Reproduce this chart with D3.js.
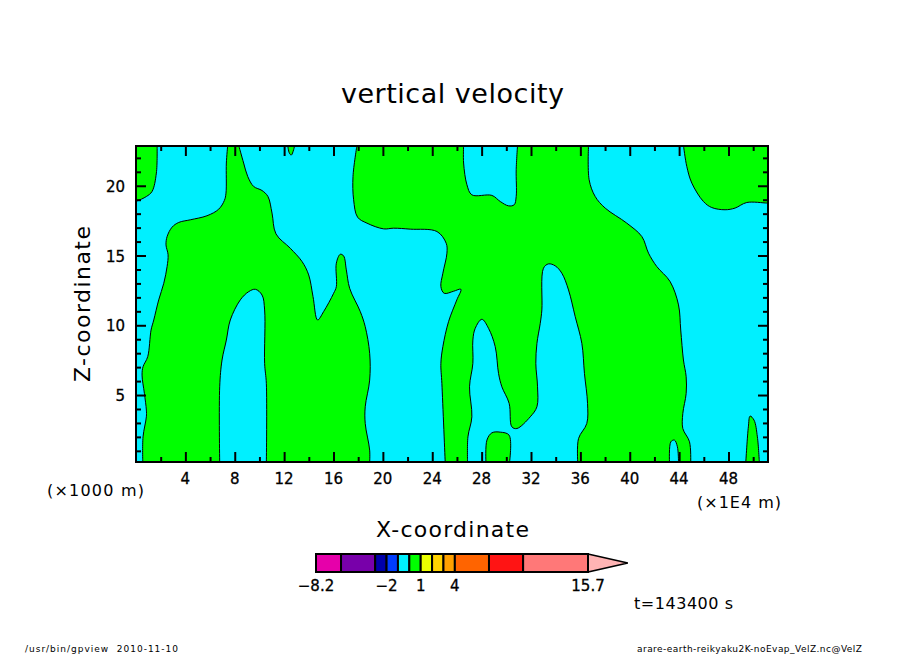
<!DOCTYPE html>
<html>
<head>
<meta charset="utf-8">
<script src="https://cdn.jsdelivr.net/npm/d3@7"></script>
<style>
  html, body { margin: 0; padding: 0; background: #fff; }
  svg { display: block; }
  text { font-family: "DejaVu Sans", sans-serif; fill: #000; }
</style>
</head>
<body>
<svg id="chart" width="904" height="654"></svg>
<script>
// axis ranges
var xRange = [0, 51.2];
var zRange = [0.2, 22.85];

// ticks
var xMajor = [4, 8, 12, 16, 20, 24, 28, 32, 36, 40, 44, 48];
var xMinor = [2, 6, 10, 14, 18, 22, 26, 30, 34, 38, 42, 46, 50];
var zMajor = [5, 10, 15, 20];
var zMinor = [1, 2, 3, 4, 6, 7, 8, 9, 11, 12, 13, 14, 16, 17, 18, 19, 21, 22];

// green areas (VelZ > 0), [x, z]
var bigLeft = [[0.55,0.16],[0.57,2],[0.84,3.44],[0.84,3.92],[0.68,5.12],[0.49,6.43],[0.57,7.03],[0.95,7.75],
  [1.22,9.66],[1.44,10.38],[1.84,11.82],[2.25,13.01],[2.52,14.21],[2.6,15.05],[2.43,15.76],[2.52,16.36],
  [2.92,17.03],[3.46,17.37],[4.4,17.56],[5.75,17.85],[6.7,18.32],[7.16,18.95],[7.29,19.47],[7.32,21.63],
  [7.43,22.9],[8.32,22.9],[8.72,21.63],[9.05,20.67],[9.53,19.95],[10.21,19.66],[10.69,19.23],[11.02,18.04],
  [11.34,16.55],[12.5,15.52],[13.45,14.57],[13.99,13.61],[14.34,12.06],[14.71,10.38],[15.2,10.98],[16.01,12.29],
  [16.23,12.77],[16.23,14.45],[16.55,15.09],[16.82,14.97],[17.04,13.97],[17.31,12.65],[18.17,10.98],[18.57,9.9],
  [18.93,7.99],[18.93,6.07],[18.57,4.16],[18.57,2.96],[18.93,1.05],[18.93,0.16],[10.56,0.16],[10.56,5.83],
  [10.42,7.27],[10.42,11.1],[10.21,12.17],[9.67,12.58],[9.13,12.41],[8.45,11.82],[7.64,10.38],[7.32,8.94],
  [6.97,7.51],[6.78,5.59],[6.78,0.16]];

var bigRight = [[25.05,0.16],[24.78,5.83],[24.7,7.27],[24.86,8.47],[25.32,10.26],[25.99,11.82],[26.32,12.58],
  [25.73,12.44],[24.97,12.29],[24.7,12.77],[24.86,13.73],[25.19,15.17],[25.13,15.88],[24.38,16.72],[22.22,16.89],
  [20.87,16.96],[20.06,16.91],[18.71,17.32],[17.95,17.75],[17.63,19],[17.58,20.67],[17.9,22.9],[26.54,22.9],
  [26.54,21.63],[26.81,20.07],[27.21,19.35],[28.83,19.31],[29.51,18.87],[30.18,18.56],[30.64,18.64],[30.8,19.23],
  [30.8,21.15],[30.91,22.9],[36.66,22.9],[36.71,20.43],[37.2,19.23],[38.01,18.4],[39.76,17.32],[40.98,16.36],
  [41.52,15.17],[42.19,14.21],[43.27,13.13],[43.95,11.46],[44.13,9.66],[44.35,7.51],[44.57,6.31],[44.57,5.11],
  [44.3,3.68],[44.3,2.6],[44.84,1.65],[44.94,0.16],[43.95,0.16],[43.86,1.29],[43.62,1.77],[43.33,1.65],[43.22,0.16],
  [35.79,0.16],[35.85,1.88],[36.52,2.96],[36.58,4.4],[36.33,6.55],[36.12,8.7],[35.58,10.62],[35.04,12.53],
  [34.5,13.73],[33.96,14.26],[33.42,14.4],[33.01,14.09],[32.88,11.1],[32.75,10.14],[32.48,8.7],[32.39,7.27],
  [32.53,5.59],[32.48,4.16],[31.94,3.44],[30.86,2.6],[30.45,2.72],[30.23,4.4],[29.64,5.59],[29.37,6.55],[29.1,8.47],
  [28.56,9.78],[28.02,10.43],[27.48,9.78],[27.29,8.94],[27.29,7.27],[27.02,5.59],[27.21,3.44],[26.89,2],[26.86,0.16]];

var bottomBlob = [[28.35,0.16],[28.43,1.77],[28.83,2.29],[29.51,2.34],[30.23,2.12],[30.26,0.16]];
var topRight = [[44.35,22.9],[44.62,21.39],[45.03,20.19],[45.97,18.87],[46.64,18.44],[47.72,18.28],[48.53,18.4],
  [49.48,18.8],[51.1,18.76],[51.3,18.76],[51.3,22.9]];
var bottomRight = [[49.4,0.16],[49.61,2.72],[49.75,3.49],[50.07,3.2],[50.34,2],[50.5,0.16]];
var topLeft = [[-0.1,22.9],[1.71,22.9],[1.65,20.91],[1.3,19.59],[0.84,19.23],[0.09,18.92],[-0.1,18.9]];
var topSliver = [[12.29,22.9],[12.42,22.35],[12.58,22.2],[12.77,22.58],[12.85,22.9]];

var greenAreas = [bigLeft, bigRight, bottomBlob, topRight, bottomRight, topLeft, topSliver];

// tone bar
var levels = [-8.2, -6, -3, -2, -1, 0, 1, 2, 3, 4, 7, 10, 15.7];
var levelColors = ["#e600aa", "#7800aa", "#0000aa", "#003cff", "#00f0ff", "#00ff00", "#ebff00",
  "#ffd200", "#ffa000", "#ff6400", "#ff1414", "#ff7878"];
var levelLabels = [-8.2, -2, 1, 4, 15.7];
var overColor = "#ffb4b4";
var overTip = 19.2;

var svg = d3.select("#chart");

var x = d3.scaleLinear().domain(xRange).range([136, 768]);
var y = d3.scaleLinear().domain(zRange).range([462, 146]);

svg.append("clipPath").attr("id", "plotClip").append("rect")
  .attr("x", 136).attr("y", 146).attr("width", 632).attr("height", 316);

var plot = svg.append("g").attr("clip-path", "url(#plotClip)");

plot.append("rect").attr("x", 136).attr("y", 146).attr("width", 632).attr("height", 316).attr("fill", "#00f0ff");

var line = d3.line().x(d => x(d[0])).y(d => y(d[1])).curve(d3.curveCatmullRom.alpha(0.5));

function onFrame(p) {
  return p[1] <= 0.2 || p[1] >= 22.85 || p[0] <= 0 || p[0] >= 51.2;
}

// smooth along the contour, straight where the area runs along the frame
function areaPath(pts) {
  var runs = [];
  var cur = [pts[0]];
  for (var i = 1; i < pts.length; i++) {
    if (onFrame(pts[i - 1]) && onFrame(pts[i])) {
      runs.push(cur);
      cur = [];
    }
    cur.push(pts[i]);
  }
  runs.push(cur);
  return runs.map((r, i) => {
    var d = line(r).replace(/Z$/, "");
    return i == 0 ? d : d.replace(/^M/, "L");
  }).join("") + "Z";
}

plot.selectAll("path.area")
  .data(greenAreas)
  .join("path")
  .attr("class", "area")
  .attr("d", areaPath)
  .attr("fill", "#00ff00")
  .attr("stroke", "#000")
  .attr("stroke-width", 1);

// one axis per side and tick class, all pointing into the frame
function drawAxis(axisFn, scale, values, size, tx, ty) {
  var g = svg.append("g")
    .attr("transform", `translate(${tx},${ty})`)
    .call(axisFn(scale).tickValues(values).tickSize(-size).tickFormat(""));
  g.select(".domain").remove();
  g.selectAll("line").attr("stroke", "#000").attr("stroke-width", 2);
  return g;
}

drawAxis(d3.axisBottom, x, xMajor, 10, 0, 462);
drawAxis(d3.axisBottom, x, xMinor, 5, 0, 462);
drawAxis(d3.axisTop, x, xMajor, 10, 0, 146);
drawAxis(d3.axisTop, x, xMinor, 5, 0, 146);
drawAxis(d3.axisLeft, y, zMajor, 10, 136, 0);
drawAxis(d3.axisLeft, y, zMinor, 5, 136, 0);
drawAxis(d3.axisRight, y, zMajor, 10, 768, 0);
drawAxis(d3.axisRight, y, zMinor, 5, 768, 0);

svg.append("rect")
  .attr("x", 136).attr("y", 146).attr("width", 632).attr("height", 316)
  .attr("fill", "none").attr("stroke", "#000").attr("stroke-width", 2);

// tick labels
svg.selectAll("text.xtick").data(xMajor).join("text")
  .attr("class", "xtick")
  .attr("x", d => x(d)).attr("y", 484)
  .attr("text-anchor", "middle").attr("font-size", 15)
  .attr("stroke", "#000").attr("stroke-width", 0.3)
  .text(d => d);

svg.selectAll("text.ztick").data(zMajor).join("text")
  .attr("class", "ztick")
  .attr("x", 125).attr("y", d => y(d) + 6)
  .attr("text-anchor", "end").attr("font-size", 15)
  .attr("stroke", "#000").attr("stroke-width", 0.3)
  .text(d => d);

function label(str, x0, y0, size, width, anchor) {
  return svg.append("text")
    .attr("x", x0).attr("y", y0)
    .attr("font-size", size)
    .attr("text-anchor", anchor || "start")
    .attr("textLength", width)
    .attr("lengthAdjust", "spacing")
    .text(str);
}

label("vertical velocity", 341, 103, 27, 223);
label("X-coordinate", 376, 537, 22, 153);
label("(×1000 m)", 47, 496, 16, 97);
label("(×1E4 m)", 697, 508, 16, 84);
label("t=143400 s", 634, 609, 16, 99);
label("/usr/bin/gpview  2010-11-10", 25, 652, 9, 153).attr("xml:space", "preserve");
label("arare-earth-reikyaku2K-noEvap_VelZ.nc@VelZ", 637, 652, 9, 225);

svg.append("text")
  .attr("transform", "translate(90,382) rotate(-90)")
  .attr("font-size", 22)
  .attr("textLength", 156)
  .attr("lengthAdjust", "spacing")
  .text("Z-coordinate");

// tone bar
var c = d3.scaleLinear().domain([levels[0], levels[levels.length - 1]]).range([316, 588]);
var barTop = 554, barBottom = 572;

svg.append("path")
  .attr("d", d3.line()([[c(15.7), barTop], [c(overTip), (barTop + barBottom) / 2], [c(15.7), barBottom]]) + "Z")
  .attr("fill", overColor).attr("stroke", "#000").attr("stroke-width", 1.5);

svg.selectAll("rect.tone").data(levelColors).join("rect")
  .attr("class", "tone")
  .attr("x", (d, i) => c(levels[i]))
  .attr("y", barTop)
  .attr("width", (d, i) => c(levels[i + 1]) - c(levels[i]))
  .attr("height", barBottom - barTop)
  .attr("fill", d => d)
  .attr("stroke", "#000").attr("stroke-width", 2);

svg.selectAll("text.tonelabel").data(levelLabels).join("text")
  .attr("class", "tonelabel")
  .attr("x", d => c(d)).attr("y", 591)
  .attr("text-anchor", "middle").attr("font-size", 15)
  .attr("stroke", "#000").attr("stroke-width", 0.3)
  .text(d => String(d).replace("-", "−"));
</script>
</body>
</html>
